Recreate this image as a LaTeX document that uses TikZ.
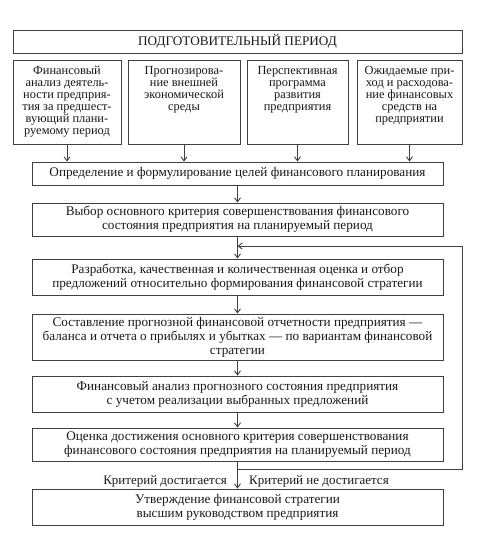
\documentclass[tikz,border=0pt]{standalone}
\usepackage{fontspec}
\setmainfont{Liberation Serif}
\usetikzlibrary{arrows.meta}
\begin{document}
\begin{tikzpicture}[x=1pt,y=-1pt,
  line/.style={draw=black!75, line width=0.9pt},
  box/.style={line, rectangle, inner sep=1pt, align=center, text=black!90, font=\fontsize{13.2}{14}\selectfont},
  small/.style={box, font=\fontsize{12.4}{12}\selectfont, anchor=north, inner ysep=0pt, inner xsep=0pt},
  arr/.style={line, -{Straight Barb[length=4pt,width=6pt]}},
  lbl/.style={text=black!90, font=\fontsize{13}{14}\selectfont, inner sep=0pt}]
\useasboundingbox (0,0) rectangle (492,546);
\fill[white] (0,0) rectangle (492,546);
% title
\node[box, minimum width=449pt, minimum height=23pt] (title) at (237.5,41.5) {ПОДГОТОВИТЕЛЬНЫЙ ПЕРИОД};
% four boxes
\node[box, minimum width=108pt, minimum height=84pt] (b1) at (67,102) {};
\node[box, minimum width=112pt, minimum height=84pt] (b2) at (184,102) {};
\node[box, minimum width=101pt, minimum height=84pt] (b3) at (297.5,102) {};
\node[box, minimum width=105pt, minimum height=84pt] (b4) at (409.5,102) {};
\node[small, draw=none] (t1) at (67,65.5) {Финансовый\\анализ деятель-\\ности предприя-\\тия за предшест-\\вующий плани-\\руемому период};
\node[small, draw=none] (t2) at (184,65.5) {Прогнозирова-\\ние внешней\\экономической\\среды};
\node[small, draw=none] (t3) at (297.5,65.5) {Перспективная\\программа\\развития\\предприятия};
\node[small, draw=none] (t4) at (409.5,65.5) {Ожидаемые при-\\ход и расходова-\\ние финансовых\\средств на\\предприятии};
% main column
\node[box, minimum width=411pt, minimum height=23pt] (m1) at (237.5,173.5) {Определение и формулирование целей финансового планирования};
\node[box, minimum width=411pt, minimum height=33pt] (m2) at (237.5,219.5) {Выбор основного критерия совершенствования финансового\\состояния предприятия на планируемый период};
\node[box, minimum width=411pt, minimum height=36pt] (m3) at (237.5,277) {Разработка, качественная и количественная оценка и отбор\\предложений относительно формирования финансовой стратегии};
\node[box, minimum width=411pt, minimum height=46pt] (m4) at (237.5,337) {Составление прогнозной финансовой отчетности предприятия —\\баланса и отчета о прибылях и убытках — по вариантам финансовой\\стратегии};
\node[box, minimum width=411pt, minimum height=36pt] (m5) at (237.5,394) {Финансовый анализ прогнозного состояния предприятия\\с учетом реализации выбранных предложений};
\node[box, minimum width=411pt, minimum height=33pt] (m6) at (237.5,444.5) {Оценка достижения основного критерия совершенствования\\финансового состояния предприятия на планируемый период};
\node[box, minimum width=411pt, minimum height=36pt] (m7) at (237.5,507) {Утверждение финансовой стратегии\\высшим руководством предприятия};
% arrows from top boxes
\foreach \b in {b1,b2,b3,b4} \draw[arr] (\b.south) -- (\b.south |- m1.north);
\draw[arr] (m1) -- (m2);
\draw[arr] (m2) -- (m3);
\draw[arr] (m3) -- (m4);
\draw[arr] (m4) -- (m5);
\draw[arr] (m5) -- (m6);
\draw[arr] (m6) -- (m7);
% feedback loop
\coordinate (j) at (237.5,469);
\coordinate (fb) at (237.5,246);
\draw[line] (j) -- (462,469) -- (462,246) coordinate (fr);
\draw[arr] (fr) -- (fb);
% labels
\node[lbl, anchor=east] (l1) at (227,481) {Критерий достигается};
\node[lbl, anchor=west] (l2) at (249,481) {Критерий не достигается};
\end{tikzpicture}
\end{document}
